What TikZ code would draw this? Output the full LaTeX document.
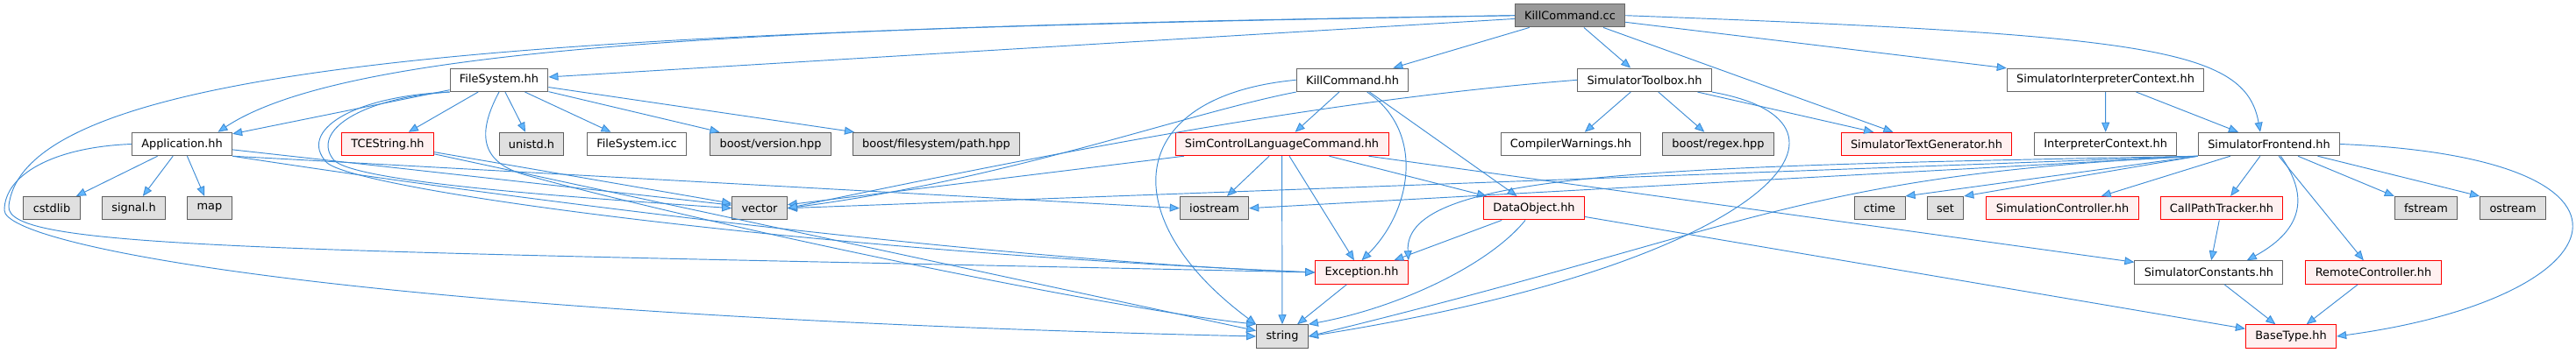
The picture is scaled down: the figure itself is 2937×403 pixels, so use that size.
\documentclass[tikz,border=0pt]{standalone}
\usepackage{fontspec}
\setmainfont{DejaVu Sans}
\usepackage{xcolor}
\usetikzlibrary{arrows.meta}
\definecolor{rootgrey}{HTML}{999999}
\definecolor{framegrey}{HTML}{666666}
\definecolor{extgrey}{HTML}{E0E0E0}
\definecolor{extframe}{HTML}{5E5E5E}
\definecolor{truncfill}{HTML}{FFF0F0}
\definecolor{depblue}{HTML}{63B8FF}
\definecolor{depline}{HTML}{3F8DD6}

\begin{document}
\begin{tikzpicture}[
    x=0.03cm, y=-0.03cm, font=\fontsize{11}{13}\selectfont,
    hdr/.style={draw, line width=0.85pt, inner xsep=9.3pt, inner ysep=0pt, minimum height=0.795cm},
    root/.style={hdr, fill=rootgrey, draw=framegrey},
    doc/.style={hdr, fill=white, draw=framegrey},
    sys/.style={hdr, fill=extgrey, draw=extframe},
    trunc/.style={hdr, fill=truncfill, draw=red},
    dep/.style={-{Triangle[length=0.33cm, width=0.27cm, fill=depblue]}, draw=depline, line width=0.8pt}
]
\useasboundingbox (0,0) rectangle (2937,403);
\fill[white] (0,0) rectangle (2937,403);

% ---- row 0: the source file ----
\node[root] (kcc) at (1790,17.7) {KillCommand.cc};

% ---- row 1 ----
\node[doc] (fs)  at (569,91.3)    {FileSystem.hh};
\node[doc] (kch) at (1542,91.3)   {KillCommand.hh};
\node[doc] (st)  at (1875,91.3)   {SimulatorToolbox.hh};
\node[doc] (sic) at (2400.5,91.3) {SimulatorInterpreterContext.hh};

% ---- row 2 ----
\node[doc]   (app)    at (207.5,164.5)  {Application.hh};
\node[trunc] (tce)    at (442,164.5)    {TCEString.hh};
\node[sys]   (unistd) at (606,164.5)    {unistd.h};
\node[doc]   (fsicc)  at (726,164.5)    {FileSystem.icc};
\node[sys]   (bver)   at (878.5,164.5)  {boost/version.hpp};
\node[sys]   (bpath)  at (1067.5,164.5) {boost/filesystem/path.hpp};
\node[trunc] (sclc)   at (1461.5,164.5) {SimControlLanguageCommand.hh};
\node[doc]   (cw)     at (1791,164.5)   {CompilerWarnings.hh};
\node[sys]   (bregex) at (1959,164.5)   {boost/regex.hpp};
\node[trunc] (stg)    at (2196.5,164.5) {SimulatorTextGenerator.hh};
\node[doc]   (ic)     at (2400.7,164.5) {InterpreterContext.hh};
\node[doc]   (sf)     at (2587,164.5)   {SimulatorFrontend.hh};

% ---- row 3 ----
\foreach \name/\x/\lab in {cstdlib/59/cstdlib, signal/152.5/signal.h, map/239/map,
    vector/866/vector, iostream/1384.5/iostream, ctime/2143/ctime, set/2218/set,
    fstream/2766/fstream, ostream/2865/ostream}
  \node[sys] (\name) at (\x,237.7) {\lab};
\node[trunc] (dobj)   at (1749,237.7)   {DataObject.hh};
\node[trunc] (simctl) at (2351.5,237.7) {SimulationController.hh};
\node[trunc] (cpt)    at (2533,237.7)   {CallPathTracker.hh};

% ---- row 4 ----
\node[trunc] (exc)    at (1552.5,311) {Exception.hh};
\node[doc]   (sconst) at (2518.4,311) {SimulatorConstants.hh};
\node[trunc] (remote) at (2706,311)   {RemoteController.hh};

% ---- row 5 ----
\node[sys]   (string)   at (1462,384) {string};
\node[trunc] (basetype) at (2612,384) {BaseType.hh};

% ---- straight includes ----
\foreach \a/\b in {kcc/kch, kcc/st, kcc/stg, kcc/sic, kcc/fs,
    fs/app, fs/tce, fs/unistd, fs/fsicc, fs/bver, fs/bpath,
    app/cstdlib, app/signal, app/map, app/vector,
    tce/vector, tce/string,
    kch/sclc, kch/dobj,
    sclc/iostream, sclc/string, sclc/exc, sclc/dobj, sclc/vector, sclc/sconst,
    dobj/exc, dobj/basetype, exc/string,
    st/cw, st/bregex, st/stg,
    sic/ic, sic/sf,
    sf/simctl, sf/cpt, sf/remote,
    cpt/sconst, sconst/basetype, remote/basetype}
  \draw[dep] (\a) -- (\b);

\draw[dep] (app.south east) -- (iostream.west);
\draw[dep] (sf.south west) -- (vector.east);
\draw[dep] (sf.south west) -- (iostream.east);
\draw[dep] (sf.south west) -- (ctime.north east);
\draw[dep] (sf.south west) -- (set.north east);
\draw[dep] (sf) -- (fstream.north west);
\draw[dep] (sf) -- (ostream.north west);

% ---- routed includes ----
\draw[dep] (kcc.west) .. controls (900,30) and (400,50) .. ([xshift=-0.5cm]app.north east);
\draw[dep] (kcc.east) .. controls (2450,40) and (2560,55) .. ([xshift=-0.3cm]sf.north);
\draw[dep] (kcc.west) .. controls (700,35) and (30,60) .. (10,235)
    .. controls (5,285) and (300,285) .. (exc.west);

\draw[dep] (fs.south west) .. controls (410,112) and (355,150) .. (380,182)
    .. controls (400,208) and (650,225) .. (vector.west);
\draw[dep] (fs.south west) .. controls (400,110) and (340,150) .. (372,185)
    .. controls (400,216) and (900,285) .. (exc.west);
\draw[dep] (fs.south) .. controls (545,150) and (545,185) .. (600,200)
    .. controls (800,255) and (1250,350) .. (string.north west);

\draw[dep] (app.west) .. controls (60,168) and (5,200) .. (5,240)
    .. controls (5,280) and (400,360) .. (string.west);
\draw[dep] (app.south east) .. controls (700,245) and (1200,300) .. (exc.west);

\draw[dep] (kch.south west) .. controls (1350,130) and (1150,205) .. (vector.east);
\draw[dep] ([xshift=0.5cm]kch.south) .. controls (1625,150) and (1610,240) .. (exc.north);
\draw[dep] (kch.west) .. controls (1280,110) and (1270,250) .. (string.north west);

\draw[dep] (st.west) .. controls (1500,115) and (1200,175) .. (vector.east);
\draw[dep] (st.south east) .. controls (2150,140) and (2020,300) .. (string.east);

\draw[dep] ([xshift=-0.3cm]dobj.south) .. controls (1700,300) and (1600,350) .. (string.north east);

\draw[dep] (sf.south west) .. controls (1900,190) and (1600,195) .. (exc.north east);
\draw[dep] (sf.south west) .. controls (2050,200) and (2000,260) .. (string.east);
\draw[dep] ([xshift=0.4cm]sf.south) .. controls (2630,220) and (2630,260) .. ([xshift=1.3cm]sconst.north);
\draw[dep] (sf.east) .. controls (3050,180) and (2990,340) .. (basetype.east);

\end{tikzpicture}
\end{document}
